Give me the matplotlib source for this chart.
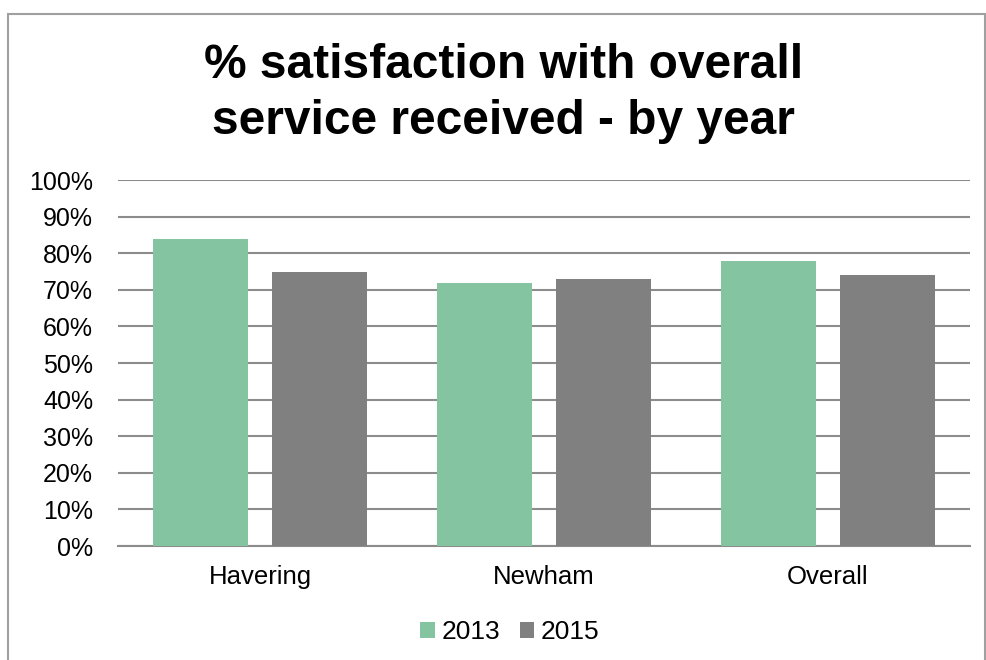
import numpy as np
import matplotlib.pyplot as plt
from matplotlib.patches import Rectangle
from matplotlib.ticker import PercentFormatter

plt.rcParams['font.family'] = ['Liberation Sans', 'DejaVu Sans']

# Satisfaction scores by area and survey year
areas = ["Havering", "Newham", "Overall"]
years = ["2013", "2015"]
pct_2013 = [84, 72, 78]
pct_2015 = [75, 73, 74]

green = "#84C4A0"
grey = "#808080"

fig = plt.figure(figsize=(9.86, 6.6), dpi=100)
ax = fig.add_axes([0.1197, 0.1727, 0.864, 0.5545])

x = np.arange(len(areas))
w = 0.335
ax.bar(x - 0.21, pct_2013, width=w, color=green, label=years[0], zorder=3)
ax.bar(x + 0.21, pct_2015, width=w, color=grey, label=years[1], zorder=3)

ax.set_xlim(-0.5, len(areas) - 0.5)
ax.set_ylim(0, 100)
ax.set_yticks(np.arange(0, 101, 10))
ax.yaxis.set_major_formatter(PercentFormatter(decimals=0))
ax.set_xticks(x)
ax.set_xticklabels(areas)
ax.tick_params(axis='y', length=0, pad=18, labelsize=18, labelcolor="#000000")
ax.tick_params(axis='x', length=0, pad=14, labelsize=18.5, labelcolor="#000000")
ax.grid(axis='y', color="#8C8C8C", linewidth=1.5, zorder=0)
for side in ["top", "right", "left"]:
    ax.spines[side].set_visible(False)
ax.spines["bottom"].set_color("#8C8C8C")
ax.spines["bottom"].set_linewidth(1.5)

fig.text(0.511, 0.858, "% satisfaction with overall\nservice received - by year",
         ha="center", va="center", fontsize=34.5, fontweight="bold", linespacing=1.3)

ax.legend(loc="center", bbox_to_anchor=(0.460, -0.235), ncol=2, frameon=False,
          fontsize=19, handlelength=0.55, handleheight=0.55, handletextpad=0.25,
          columnspacing=0.75)

# outer chart border
fig.patches.append(Rectangle((8 / 986, -0.01), 977 / 986, 1 - 14 / 660 + 0.01,
                             transform=fig.transFigure, fill=False,
                             edgecolor="#A0A0A0", linewidth=1.5))

fig.savefig("out.png", dpi=100)
